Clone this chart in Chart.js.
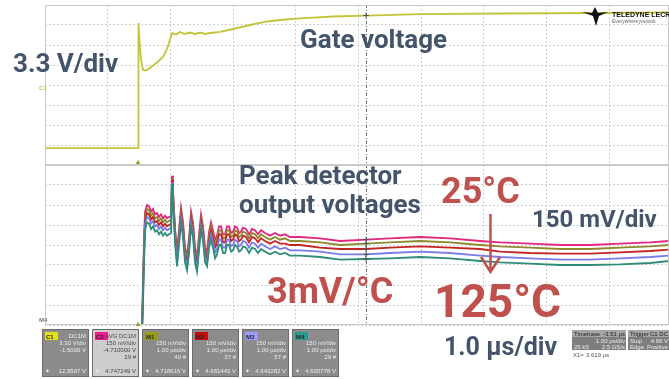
<!DOCTYPE html>
<html>
<head>
<meta charset="utf-8">
<script src="https://cdn.jsdelivr.net/npm/chart.js@4.4.1/dist/chart.umd.min.js"></script>
<style>
  html, body { margin: 0; padding: 0; background: #fff; overflow: hidden; }
  canvas { display: block; }
</style>
</head>
<body>
<canvas id="scope" width="669" height="379"></canvas>
<script>
// time in µs from the left edge of the screen (1 µs/div)
const gateTime = [0, 1.483, 1.491, 1.507, 1.531, 1.563, 1.611, 1.675, 1.786, 1.882, 1.946, 2.026,
  2.089, 2.153, 2.233, 2.313, 2.392, 2.472, 2.552, 2.632, 2.791, 2.998, 3.270, 3.541, 3.828,
  4.067, 4.593, 5.120, 5.981, 7.257, 8.852, 9.952];
// C1 gate voltage, 3.3 V/div, offset -1.5 V
const gateVolts = [-8.9, -8.9, 11.73, 8.93, 5.63, 3.98, 3.89, 4.31, 5.21, 6.12, 7.44, 10.08,
  9.83, 10.25, 9.92, 10.16, 9.92, 10.16, 9.92, 10.08, 10.25, 10.74, 11.4, 11.98, 12.31,
  12.5, 12.8, 12.96, 13.2, 13.3, 13.38, 13.46];

const peakTime = [1.547, 1.563, 1.579, 1.595, 1.627, 1.659, 1.691, 1.722, 1.754, 1.786, 1.818, 1.850,
  1.882, 1.914, 1.946, 1.978, 2.010,
  2.026, 2.041, 2.073, 2.105, 2.137, 2.169, 2.201, 2.233, 2.265, 2.297, 2.329, 2.360, 2.392, 2.424,
  2.456, 2.488, 2.520, 2.552, 2.584, 2.616, 2.648,
  2.679, 2.711, 2.743, 2.775, 2.807, 2.839, 2.871, 2.903, 2.935, 2.967, 2.998, 3.030, 3.062, 3.094,
  3.126, 3.158,
  3.206, 3.254, 3.301, 3.349, 3.397, 3.445,
  3.509, 3.589, 3.668, 3.748, 3.828, 3.907,
  4.067, 4.386, 4.705, 5.120, 5.502, 5.981, 6.459, 6.938, 7.257, 7.735, 8.214, 8.692, 9.171, 9.649, 9.952];

// peak detector outputs, 150 mV/div, offset -4.71 V (25 °C ... 125 °C)
const c2Avg = [4.07, 4.45, 4.75, 4.96, 5.01, 5.00, 4.96, 4.98, 4.94, 4.95, 4.92, 4.94, 4.91, 4.93, 4.91, 4.92, 4.93,
  5.23, 5.12, 4.84, 4.66, 4.82, 4.99, 4.88, 4.69, 4.63, 4.76, 4.96, 4.88, 4.69, 4.62, 4.78, 4.94, 4.85, 4.69, 4.66, 4.81, 4.88,
  4.82, 4.75, 4.78, 4.85, 4.85, 4.79, 4.79, 4.85, 4.85, 4.80, 4.81, 4.85, 4.84, 4.80, 4.81, 4.84,
  4.83, 4.79, 4.83, 4.82, 4.79, 4.82,
  4.80, 4.78, 4.80, 4.78, 4.79, 4.77,
  4.77, 4.76, 4.74, 4.75, 4.76, 4.77, 4.76, 4.74, 4.73, 4.72, 4.71, 4.71, 4.72, 4.73, 4.74];
const m1 = [4.07, 4.40, 4.70, 4.92, 4.98, 4.97, 4.93, 4.95, 4.91, 4.92, 4.89, 4.91, 4.88, 4.90, 4.88, 4.89, 4.90,
  5.21, 5.10, 4.82, 4.64, 4.80, 4.96, 4.86, 4.67, 4.61, 4.74, 4.93, 4.86, 4.67, 4.60, 4.76, 4.91, 4.83, 4.67, 4.64, 4.78, 4.85,
  4.79, 4.72, 4.75, 4.82, 4.82, 4.76, 4.76, 4.82, 4.82, 4.77, 4.78, 4.82, 4.81, 4.77, 4.78, 4.81,
  4.80, 4.76, 4.80, 4.79, 4.76, 4.79,
  4.77, 4.75, 4.77, 4.75, 4.76, 4.74,
  4.74, 4.73, 4.71, 4.72, 4.73, 4.74, 4.73, 4.71, 4.70, 4.69, 4.68, 4.68, 4.69, 4.70, 4.71];
const m2 = [4.07, 4.36, 4.66, 4.89, 4.95, 4.94, 4.90, 4.92, 4.88, 4.89, 4.86, 4.88, 4.85, 4.87, 4.85, 4.86, 4.87,
  5.20, 5.08, 4.79, 4.61, 4.77, 4.94, 4.83, 4.64, 4.58, 4.71, 4.91, 4.83, 4.64, 4.57, 4.73, 4.89, 4.80, 4.64, 4.61, 4.75, 4.82,
  4.76, 4.69, 4.72, 4.79, 4.79, 4.73, 4.73, 4.79, 4.79, 4.74, 4.75, 4.79, 4.78, 4.74, 4.75, 4.78,
  4.77, 4.73, 4.77, 4.76, 4.73, 4.76,
  4.74, 4.72, 4.74, 4.72, 4.72, 4.71,
  4.71, 4.69, 4.68, 4.68, 4.69, 4.70, 4.69, 4.68, 4.66, 4.65, 4.645, 4.645, 4.655, 4.665, 4.675];
const m3 = [4.07, 4.32, 4.62, 4.86, 4.92, 4.91, 4.87, 4.89, 4.85, 4.86, 4.83, 4.85, 4.82, 4.84, 4.82, 4.83, 4.84,
  5.18, 5.06, 4.76, 4.58, 4.74, 4.91, 4.80, 4.61, 4.55, 4.68, 4.88, 4.80, 4.61, 4.54, 4.70, 4.86, 4.77, 4.61, 4.58, 4.72, 4.79,
  4.73, 4.65, 4.68, 4.75, 4.75, 4.69, 4.69, 4.75, 4.75, 4.70, 4.71, 4.75, 4.74, 4.70, 4.71, 4.74,
  4.73, 4.69, 4.73, 4.72, 4.69, 4.72,
  4.70, 4.68, 4.70, 4.68, 4.69, 4.67,
  4.67, 4.66, 4.64, 4.64, 4.65, 4.66, 4.65, 4.63, 4.62, 4.61, 4.60, 4.60, 4.61, 4.62, 4.63];
const m4 = [4.07, 4.28, 4.58, 4.82, 4.88, 4.87, 4.83, 4.85, 4.81, 4.82, 4.79, 4.81, 4.78, 4.80, 4.78, 4.79, 4.80,
  5.17, 5.04, 4.73, 4.55, 4.71, 4.88, 4.77, 4.58, 4.52, 4.65, 4.85, 4.77, 4.58, 4.51, 4.67, 4.83, 4.74, 4.58, 4.55, 4.69, 4.75,
  4.69, 4.61, 4.64, 4.71, 4.71, 4.65, 4.65, 4.71, 4.71, 4.66, 4.67, 4.71, 4.70, 4.66, 4.67, 4.70,
  4.69, 4.65, 4.69, 4.68, 4.65, 4.68,
  4.66, 4.64, 4.66, 4.64, 4.65, 4.63,
  4.63, 4.62, 4.60, 4.605, 4.61, 4.62, 4.61, 4.59, 4.58, 4.57, 4.56, 4.56, 4.565, 4.575, 4.59];

const cursorT = 5.12;   // X1 = 3.619 µs after trigger
const trigT = 1.483;

// readout boxes under the grid
const chanNames = ['C1', 'C2', 'M1', 'M2', 'M3', 'M4'];
const chanInfo = [
  ['DC1M', '3.30 V/div', '-1.5000 V', ''],
  ['AVG DC1M', '150 mV/div', '-4.710000 V', '29 #'],
  ['', '150 mV/div', '1.00 µs/div', '40 #'],
  ['', '150 mV/div', '1.00 µs/div', '37 #'],
  ['', '150 mV/div', '1.00 µs/div', '57 #'],
  ['', '150 mV/div', '1.00 µs/div', '29 #']
];
const chanReadout = ['12.9597 V', '4.747249 V', '4.718616 V', '4.681443 V', '4.643282 V', '4.605778 V'];

const traceColors = { C1: '#c4c43a', C2: '#e0287e', M1: '#8c8a2c', M2: '#c42424', M3: '#7c7ce8', M4: '#2f8c78' };
const tagColors = ['#e2e21a', '#ee1c8c', '#9c9c12', '#c80c0c', '#9a9aff', '#2a9a8a'];

function pts(xs, ys) { return xs.map((x, i) => ({ x: x, y: ys[i] })); }

function trace(label, data, axis) {
  return {
    label: label, data: data, yAxisID: axis,
    borderColor: traceColors[label], borderWidth: 1.8,
    pointRadius: 0, showLine: true, tension: 0, fill: false
  };
}

const navy = '#44546a';
const red = '#c0504d';

const overlay = {
  id: 'overlay',
  afterDatasetsDraw(chart) {
    const ctx = chart.ctx, xs = chart.scales.x, a = chart.chartArea;
    const cx = Math.round(xs.getPixelForValue(cursorT)) + 0.5;
    ctx.save();
    // cursor
    ctx.strokeStyle = '#6f6f6f';
    ctx.lineWidth = 1;
    ctx.setLineDash([3, 2, 1, 2]);
    ctx.beginPath(); ctx.moveTo(cx, a.top); ctx.lineTo(cx, a.bottom); ctx.stroke();
    ctx.setLineDash([]);
    // cursor crosses on each trace
    chart.data.datasets.forEach((ds, i) => {
      const idx = ds.data.findIndex(p => p.x === cursorT);
      if (idx < 0) return;
      const el = chart.getDatasetMeta(i).data[idx];
      ctx.strokeStyle = '#555';
      ctx.beginPath();
      ctx.moveTo(el.x - 3, el.y); ctx.lineTo(el.x + 3, el.y);
      ctx.moveTo(el.x, el.y - 3); ctx.lineTo(el.x, el.y + 3);
      ctx.stroke();
    });
    // panel frames
    ctx.strokeStyle = '#cacaca';
    ['yGate', 'yPeak'].forEach(id => {
      const s = chart.scales[id];
      ctx.strokeRect(a.left + 0.5, s.top + 0.5, a.right - a.left - 1, s.bottom - s.top - 1);
    });
    // trigger markers
    const tx = xs.getPixelForValue(trigT);
    ctx.fillStyle = '#9c9c2a';
    [chart.scales.yGate.bottom - 1, a.bottom + 1].forEach(y => {
      ctx.beginPath(); ctx.moveTo(tx - 2.5, y); ctx.lineTo(tx + 2.5, y); ctx.lineTo(tx, y - 4); ctx.fill();
    });
    // channel level markers at the left
    ctx.font = 'bold 6px "Liberation Sans"';
    ctx.fillStyle = '#c8c84a';
    ctx.fillText('C1', 39, 90);
    ctx.fillStyle = '#7a7a6a';
    ctx.fillText('M4', 39, 322);
    ctx.restore();
  },
  afterDraw(chart) {
    const ctx = chart.ctx;
    ctx.save();
    // annotations
    ctx.textAlign = 'left';
    ctx.textBaseline = 'alphabetic';
    ctx.fillStyle = navy;
    ctx.font = 'bold 26px Roboto';
    ctx.fillText('3.3 V/div', 13, 72);
    ctx.fillText('Gate voltage', 300, 48);
    ctx.fillText('Peak detector', 239, 184);
    ctx.fillText('output voltages', 239, 213);
    ctx.font = 'bold 24px Roboto';
    ctx.fillText('150 mV/div', 532, 227);
    ctx.font = 'bold 25px Roboto';
    ctx.fillText('1.0 µs/div', 444, 355);
    ctx.fillStyle = red;
    ctx.font = 'bold 36px Roboto';
    ctx.fillText('25°C', 441, 203);
    ctx.fillText('3mV/°C', 267, 303);
    ctx.font = 'bold 46px Roboto';
    ctx.fillText('125°C', 434, 317);
    // arrow 25°C -> 125°C
    ctx.strokeStyle = red;
    ctx.lineWidth = 2.5;
    ctx.beginPath();
    ctx.moveTo(490.5, 214); ctx.lineTo(490.5, 271);
    ctx.moveTo(481, 257); ctx.lineTo(490.5, 272); ctx.lineTo(500, 257);
    ctx.stroke();

    // readout boxes
    chanNames.forEach((name, i) => {
      const x = 42 + i * 50, y = 329, w = 47, h = 48;
      ctx.fillStyle = i === 1 ? '#cdcdcd' : '#8c8c8c';
      ctx.fillRect(x, y, w, h);
      ctx.strokeStyle = '#6c6c6c';
      ctx.lineWidth = 1;
      ctx.strokeRect(x + 0.5, y + 0.5, w - 1, h - 1);
      ctx.fillStyle = tagColors[i];
      ctx.fillRect(x + 3, y + 3, 13, 8);
      ctx.font = 'bold 6px "Liberation Sans"';
      ctx.fillStyle = '#2a2a2a';
      ctx.textAlign = 'left';
      ctx.fillText(name, x + 4, y + 9.5);
      ctx.font = '6px "Liberation Sans"';
      ctx.fillStyle = i === 1 ? '#4a4a4a' : '#ececec';
      ctx.textAlign = 'right';
      chanInfo[i].forEach((s, k) => ctx.fillText(s, x + w - 3, y + 9 + k * 7));
      ctx.fillText(chanReadout[i], x + w - 3, y + h - 4);
      ctx.textAlign = 'left';
      ctx.fillStyle = '#f4f4f4';
      ctx.fillText('✦', x + 3, y + h - 4);
    });

    // timebase / trigger boxes
    ctx.font = '6px "Liberation Sans"';
    ctx.fillStyle = '#a6a6a6'; ctx.fillRect(572, 330, 54, 7);
    ctx.fillStyle = '#7e7e7e'; ctx.fillRect(572, 337, 54, 13);
    ctx.fillStyle = '#a6a6a6'; ctx.fillRect(628, 330, 41, 7);
    ctx.fillStyle = '#7e7e7e'; ctx.fillRect(628, 337, 41, 13);
    ctx.fillStyle = '#202020';
    ctx.textAlign = 'left';
    ctx.fillText('Timebase', 574, 336);
    ctx.fillText('Trigger', 630, 336);
    ctx.fillStyle = '#ececec';
    ctx.fillText('25 kS', 574, 349);
    ctx.fillText('Stop', 630, 343);
    ctx.fillText('Edge', 630, 349);
    ctx.textAlign = 'right';
    ctx.fillStyle = '#202020';
    ctx.fillText('-3.51 µs', 625, 336);
    ctx.fillText('C1 DC', 668, 336);
    ctx.fillStyle = '#ececec';
    ctx.fillText('1.00 µs/div', 625, 343);
    ctx.fillText('2.5 GS/s', 625, 349);
    ctx.fillText('4.66 V', 668, 343);
    ctx.fillText('Positive', 668, 349);
    ctx.textAlign = 'left';
    ctx.fillStyle = '#555';
    ctx.fillText('X1=', 573, 357);
    ctx.fillText('3.619 µs', 586, 357);

    // logo
    ctx.fillStyle = '#111';
    ctx.beginPath();
    ctx.moveTo(582, 12); ctx.lineTo(592, 13); ctx.lineTo(595, 7); ctx.lineTo(598, 13);
    ctx.lineTo(608, 12); ctx.lineTo(599, 16); ctx.lineTo(596, 26); ctx.lineTo(593, 16);
    ctx.closePath(); ctx.fill();
    ctx.font = 'bold 7px "Liberation Sans Narrow", "Liberation Sans"';
    ctx.fillText('TELEDYNE LECROY', 612, 17);
    ctx.font = '5px "Liberation Sans"';
    ctx.fillStyle = '#666';
    ctx.fillText('Everywhereyoulook', 612, 23);
    ctx.restore();
  }
};

const gridOpts = { color: '#d0d0d0', lineWidth: 1, drawTicks: false };
const borderOpts = { display: false, dash: [2, 2] };

new Chart(document.getElementById('scope'), {
  type: 'scatter',
  data: {
    datasets: [
      trace('M4', pts(peakTime, m4), 'yPeak'),
      trace('M3', pts(peakTime, m3), 'yPeak'),
      trace('M2', pts(peakTime, m2), 'yPeak'),
      trace('M1', pts(peakTime, m1), 'yPeak'),
      trace('C2', pts(peakTime, c2Avg), 'yPeak'),
      trace('C1', pts(gateTime, gateVolts), 'yGate')
    ]
  },
  options: {
    responsive: false,
    animation: false,
    devicePixelRatio: 1,
    layout: { padding: { left: 45, top: 5, right: 0, bottom: 54 } },
    plugins: { legend: { display: false }, tooltip: { enabled: false } },
    scales: {
      x: {
        type: 'linear', min: 0, max: 9.95,
        ticks: { display: false, stepSize: 1 },
        grid: gridOpts, border: borderOpts
      },
      yPeak: {
        type: 'linear', position: 'left', stack: 'scope', stackWeight: 1,
        min: 4.11, max: 5.31,
        ticks: { display: false, stepSize: 0.15 },
        grid: gridOpts, border: borderOpts
      },
      yGate: {
        type: 'linear', position: 'left', stack: 'scope', stackWeight: 1,
        min: -11.7, max: 14.7,
        ticks: { display: false, stepSize: 3.3 },
        grid: gridOpts, border: borderOpts
      }
    }
  },
  plugins: [overlay]
});
</script>
</body>
</html>
